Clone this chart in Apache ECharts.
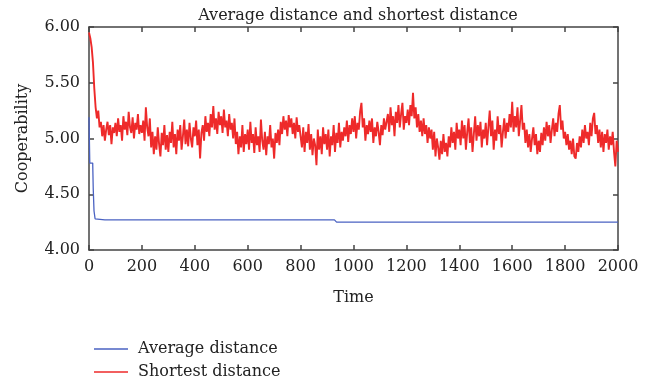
<!DOCTYPE html>
<html lang="en">

<head>
    <meta charset="UTF-8">
    <title>Average distance and shortest distance</title>
    <style>
        html, body { margin: 0; padding: 0; background: #fff; }
        #chart { width: 656px; height: 383px; }
    </style>
    <script src="https://cdn.jsdelivr.net/npm/echarts@6/dist/echarts.min.js"></script>
</head>

<body>
    <div id="chart"></div>
    <script>
        // blue line: step values [time, value]
        var avgTimes = [0, 3, 14, 16, 19, 23, 60, 928, 936, 2000];
        var avgValues = [5.19, 4.78, 4.78, 4.55, 4.35, 4.28, 4.27, 4.27, 4.25, 4.25];

        // red line: one value every 5 time steps
        var shortStep = 5;
        var shortValues = [
            5.95, 5.90, 5.82, 5.68, 5.45, 5.28, 5.18, 5.25, 5.10, 5.15, 5.02, 5.12, 4.98, 5.08, 5.15, 5.03, 5.12, 4.95, 5.10, 5.05,
            5.14, 5.02, 5.18, 5.06, 5.12, 4.98, 5.20, 5.08, 5.15, 5.03, 5.24, 5.10, 5.05, 5.19, 5.00, 5.14, 5.08, 5.22, 5.04, 5.12,
            5.05, 5.16, 4.98, 5.28, 5.10, 5.02, 5.18, 4.92, 5.06, 4.86, 5.02, 4.90, 5.10, 4.95, 4.84, 5.05, 4.94, 5.12, 4.90, 5.03,
            4.88, 5.06, 4.96, 5.15, 4.92, 5.04, 4.86, 5.08, 4.98, 5.12, 4.90, 5.02, 5.17, 4.95, 5.08, 4.93, 5.14, 5.00, 4.92, 5.10,
            5.02, 5.16, 4.94, 5.08, 4.82, 5.05, 5.12, 4.98, 5.20, 5.06, 5.14, 5.02, 5.22, 5.10, 5.29, 5.08, 5.18, 5.04, 5.24, 5.12,
            5.20, 5.05, 5.26, 5.10, 5.16, 5.02, 5.22, 5.08, 5.14, 5.00, 5.18, 4.95, 5.06, 4.86, 5.02, 4.92, 5.12, 4.88, 5.04, 4.95,
            5.08, 4.90, 5.15, 4.96, 5.04, 4.87, 5.10, 4.94, 5.02, 4.88, 5.17, 4.98, 4.90, 5.06, 4.85, 5.02, 4.95, 5.12, 4.92, 5.00,
            4.82, 5.05, 4.96, 5.08, 4.94, 5.15, 5.04, 5.20, 5.08, 5.16, 5.02, 5.21, 5.10, 5.18, 5.04, 5.14, 5.00, 5.19, 5.06, 5.12,
            5.02, 4.92, 5.10, 4.88, 5.06, 4.96, 5.13, 4.90, 5.04, 4.85, 5.00, 4.94, 4.76, 5.08, 4.90, 5.02, 4.86, 5.10, 4.95, 5.04,
            4.90, 5.08, 4.84, 5.02, 4.94, 5.12, 4.88, 5.05, 4.96, 5.14, 4.92, 5.06, 4.98, 5.10, 5.02, 5.16, 4.97, 5.12, 5.04, 5.18,
            5.06, 5.20, 5.00, 5.14, 5.08, 5.24, 5.32, 5.10, 5.18, 4.98, 5.12, 5.04, 5.16, 5.06, 5.18, 4.96, 5.10, 5.02, 5.15, 5.06,
            4.94, 5.12, 5.03, 5.18, 5.08, 5.15, 5.22, 5.06, 5.28, 5.12, 5.20, 5.02, 5.24, 5.14, 5.30, 5.10, 5.22, 5.32, 5.08, 5.20,
            5.14, 5.26, 5.12, 5.30, 5.20, 5.41, 5.18, 5.28, 5.10, 5.22, 5.06, 5.16, 5.02, 5.18, 5.04, 5.12, 4.96, 5.10, 5.00, 5.08,
            4.90, 5.06, 4.84, 5.00, 4.92, 4.81, 4.98, 4.86, 5.04, 4.88, 4.96, 4.84, 5.02, 4.92, 5.10, 4.96, 5.06, 4.90, 5.14, 5.00,
            5.08, 4.94, 5.16, 5.00, 5.12, 4.90, 5.06, 5.18, 4.96, 5.10, 4.88, 5.04, 5.20, 4.98, 5.12, 5.02, 5.15, 4.92, 5.08, 5.00,
            5.14, 4.94, 5.10, 5.25, 5.02, 5.16, 4.90, 5.08, 4.98, 5.20, 5.04, 5.12, 4.92, 5.06, 5.18, 5.00, 5.14, 5.06, 5.22, 5.10,
            5.33, 5.06, 5.20, 5.10, 5.28, 5.02, 5.16, 5.30, 5.08, 5.14, 4.96, 5.08, 4.92, 5.04, 4.88, 5.00, 5.10, 4.94, 5.04, 4.86,
            4.98, 4.88, 5.05, 4.94, 5.10, 4.98, 5.15, 5.02, 5.12, 4.96, 5.08, 5.18, 5.02, 5.14, 5.06, 5.22, 5.30, 5.08, 5.16, 5.00,
            5.06, 4.94, 5.04, 4.90, 4.98, 4.86, 5.00, 4.84, 4.82, 4.96, 4.88, 5.02, 4.92, 5.08, 4.96, 5.12, 5.00, 5.06, 4.94, 5.14,
            5.02, 5.18, 5.23, 5.04, 5.12, 4.96, 5.08, 4.92, 5.06, 4.88, 5.04, 4.96, 5.08, 4.90, 5.02, 4.94, 5.06, 4.88, 4.75, 4.98,
            4.88
        ];

        var xTicks = { min: 0, max: 2000, interval: 200 };
        var yTicks = { min: 4, max: 6, interval: 0.5 };

        var avgData = avgTimes.map(function (t, i) { return [t, avgValues[i]]; });
        var shortData = shortValues.map(function (v, i) { return [i * shortStep, v]; });

        var font = 'DejaVu Serif';
        var axisColor = '#444';
        var blue = '#4a62c2';
        var red = '#ee2a2a';

        function frameAxis(pos, ticks, showLabel, fmt) {
            return {
                type: 'value',
                position: pos,
                min: ticks.min,
                max: ticks.max,
                interval: ticks.interval,
                axisLine: { show: true, onZero: false, lineStyle: { color: axisColor, width: 1.5 } },
                axisTick: { show: true, inside: true, length: 5, lineStyle: { color: axisColor, width: 1.5 } },
                splitLine: { show: false },
                axisLabel: {
                    show: showLabel,
                    color: '#222',
                    fontFamily: font,
                    fontSize: 16,
                    margin: 9,
                    formatter: fmt
                }
            };
        }

        function legendItem(name, top) {
            return {
                left: 89,
                top: top,
                icon: 'rect',
                itemWidth: 34,
                itemHeight: 1.5,
                itemGap: 0,
                textStyle: { color: '#222', fontFamily: font, fontSize: 16, padding: [0, 0, 0, 5] },
                data: [name]
            };
        }

        var myChart = echarts.init(document.getElementById('chart'));

        var xMain = frameAxis('bottom', xTicks, true, function (v) { return String(v); });
        xMain.name = 'Time';
        xMain.nameLocation = 'middle';
        xMain.nameGap = 40;
        xMain.nameTextStyle = { color: '#222', fontFamily: font, fontSize: 16 };

        var yMain = frameAxis('left', yTicks, true, function (v) { return v.toFixed(2); });
        yMain.name = 'Cooperability';
        yMain.nameLocation = 'middle';
        yMain.nameGap = 58;
        yMain.nameTextStyle = { color: '#222', fontFamily: font, fontSize: 16 };

        var option = {
            backgroundColor: '#fff',
            animation: false,
            title: {
                text: 'Average distance and shortest distance',
                left: 353,
                textAlign: 'center',
                top: 3,
                textStyle: { color: '#222', fontFamily: font, fontSize: 16, fontWeight: 'normal' }
            },
            grid: { left: 89, right: 38, top: 27, bottom: 133, containLabel: false },
            legend: [
                legendItem('Average distance', 336),
                legendItem('Shortest distance', 359)
            ],
            xAxis: [xMain, frameAxis('top', xTicks, false)],
            yAxis: [yMain, frameAxis('right', yTicks, false)],
            series: [{
                name: 'Average distance',
                type: 'line',
                symbol: 'none',
                lineStyle: { color: blue, width: 1.3 },
                itemStyle: { color: blue },
                data: avgData
            }, {
                name: 'Shortest distance',
                type: 'line',
                symbol: 'none',
                lineStyle: { color: red, width: 1.9 },
                itemStyle: { color: red },
                data: shortData
            }]
        };
        myChart.setOption(option);
    </script>
</body>

</html>
